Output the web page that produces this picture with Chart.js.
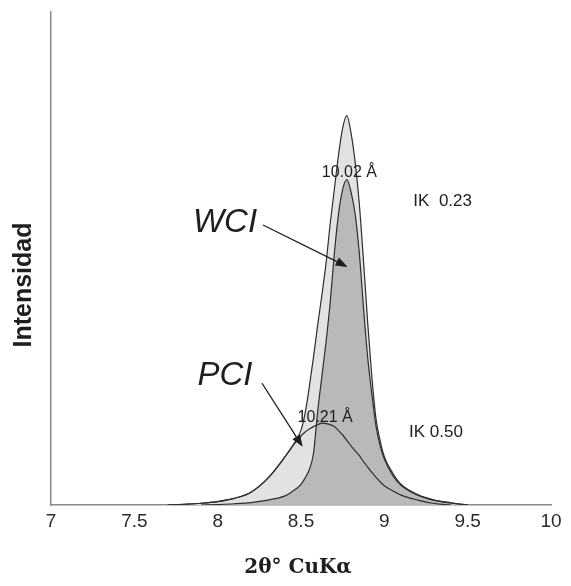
<!DOCTYPE html>
<html>
<head>
<meta charset="utf-8">
<script src="https://cdn.jsdelivr.net/npm/chart.js@4"></script>
<style>
  html, body { margin: 0; padding: 0; background: #fff; }
</style>
</head>
<body>
<canvas id="xrdChart" width="571" height="586"></canvas>
<script>
// 2θ grid (degrees), denser around the 001 reflection
const twoTheta = [7.7, 7.8, 7.9, 8.0, 8.1, 8.2, 8.3, 8.4, 8.45, 8.5, 8.525, 8.55, 8.575, 8.6, 8.625, 8.65, 8.675, 8.7, 8.725, 8.75, 8.775, 8.8, 8.825, 8.85, 8.875, 8.9, 8.925, 8.95, 8.975, 9.0, 9.05, 9.1, 9.2, 9.3, 9.4, 9.5];

// outer light-gray profile
const envelope = [0, 0.15, 0.35, 0.7, 1.35, 2.6, 5.4, 9.6, 12.0, 15.2, 18.7, 24, 30, 36.5, 42.5, 49, 57, 64, 71, 76.5, 79, 75.5, 69.5, 61, 49.5, 37, 26, 17.5, 13, 9.8, 6.5, 4.2, 2.1, 1.0, 0.45, 0];
// WCI, dark-gray profile
const wci = [null, null, 0, 0.1, 0.25, 0.5, 1.0, 1.8, 2.8, 4.2, 5.5, 7.2, 10.5, 19, 26, 33, 41, 51, 59, 64, 66, 63.5, 59, 51, 40, 30, 22.5, 16, 12, 9.3, 6.0, 4.0, 2.0, 0.95, 0.4, 0];
// PCI profile (outline only)
const pci = [0, 0.15, 0.35, 0.7, 1.35, 2.6, 5.4, 9.6, 12.0, 14.0, 14.8, 15.4, 15.9, 16.3, 16.6, 16.5, 16.3, 15.9, 15.1, 14.2, 13.1, 12.0, 11.0, 10.0, 8.8, 7.7, 6.6, 5.6, 4.7, 3.9, 2.9, 2.0, 1.0, 0.3, 0, null];

const xTicks = [7, 7.5, 8, 8.5, 9, 9.5, 10];

const toPoints = (ys) => twoTheta.map((x, i) => ({ x: x, y: ys[i] }));

// text and arrows drawn over the plot, in data units
const notes = [
  { text: '10.02 Å', x: 8.79, y: 67.5, font: '16px "Liberation Sans"' },
  { text: 'IK  0.23', x: 9.35, y: 61.7, font: '17px "Liberation Sans"' },
  { text: '10.21 Å', x: 8.645, y: 17.8, font: '16px "Liberation Sans"' },
  { text: 'IK 0.50', x: 9.31, y: 14.8, font: '17px "Liberation Sans"' },
  { text: 'WCI', x: 8.044, y: 57.2, font: 'italic 33px "Liberation Sans"' },
  { text: 'PCI', x: 8.044, y: 26.2, font: 'italic 33px "Liberation Sans"' }
];
const arrows = [
  { from: [8.272, 56.8], to: [8.78, 48.3] },
  { from: [8.266, 24.7], to: [8.51, 11.8] }
];

const overlay = {
  id: 'overlay',
  afterDraw(chart) {
    const ctx = chart.ctx;
    const xs = chart.scales.x, ys = chart.scales.y;
    const area = chart.chartArea;
    ctx.save();
    ctx.fillStyle = '#1e1e1e';
    ctx.strokeStyle = '#1e1e1e';
    ctx.textAlign = 'center';
    ctx.textBaseline = 'middle';
    notes.forEach(n => {
      ctx.font = n.font;
      ctx.fillText(n.text, xs.getPixelForValue(n.x), ys.getPixelForValue(n.y));
    });

    ctx.lineWidth = 1.3;
    arrows.forEach(a => {
      const x0 = xs.getPixelForValue(a.from[0]), y0 = ys.getPixelForValue(a.from[1]);
      const x1 = xs.getPixelForValue(a.to[0]), y1 = ys.getPixelForValue(a.to[1]);
      const ang = Math.atan2(y1 - y0, x1 - x0);
      const len = 12, half = 4.5;
      const bx = x1 - len * Math.cos(ang), by = y1 - len * Math.sin(ang);
      ctx.beginPath();
      ctx.moveTo(x0, y0);
      ctx.lineTo(bx, by);
      ctx.stroke();
      ctx.beginPath();
      ctx.moveTo(x1, y1);
      ctx.lineTo(bx + half * Math.sin(ang), by - half * Math.cos(ang));
      ctx.lineTo(bx - half * Math.sin(ang), by + half * Math.cos(ang));
      ctx.closePath();
      ctx.fill();
    });

    // axis titles
    ctx.font = 'bold 25px "Liberation Sans"';
    ctx.save();
    ctx.translate(area.left - 27, 285);
    ctx.rotate(-Math.PI / 2);
    ctx.fillText('Intensidad', 0, 0);
    ctx.restore();

    ctx.font = 'bold 20px "DejaVu Serif"';
    ctx.fillText('2θ° CuKα', 298, 568);
    ctx.restore();
  }
};

new Chart(document.getElementById('xrdChart'), {
  type: 'line',
  data: {
    datasets: [
      {
        label: 'WCI',
        data: toPoints(wci),
        fill: 'origin',
        backgroundColor: '#b9b9b9',
        borderColor: '#2e2e2e',
        borderWidth: 1.2
      },
      {
        label: 'envelope',
        data: toPoints(envelope),
        fill: 'origin',
        backgroundColor: '#e2e2e2',
        borderColor: '#2e2e2e',
        borderWidth: 1.2
      },
      {
        label: 'PCI',
        data: toPoints(pci),
        fill: false,
        borderColor: '#2e2e2e',
        borderWidth: 1.2
      }
    ]
  },
  options: {
    responsive: false,
    animation: false,
    devicePixelRatio: 1,
    layout: { padding: { left: 51, top: 12, right: 20, bottom: 0 } },
    elements: {
      point: { radius: 0 },
      line: { cubicInterpolationMode: 'monotone' }
    },
    plugins: {
      legend: { display: false },
      tooltip: { enabled: false },
      filler: { drawTime: 'beforeDatasetsDraw' }
    },
    scales: {
      x: {
        type: 'linear',
        min: 7,
        max: 10,
        afterBuildTicks: (s) => { s.ticks = xTicks.map(v => ({ value: v })); },
        afterFit: (s) => { s.height = 81; },
        ticks: {
          font: { family: 'Liberation Sans', size: 19 },
          color: '#2a2a2a',
          padding: 5,
          callback: (v) => String(v)
        },
        grid: { display: false, drawTicks: false },
        border: { display: true, color: '#8a8a8a', width: 1.5 }
      },
      y: {
        min: 0,
        max: 100,
        afterFit: (s) => { s.width = 0; },
        ticks: { display: false },
        grid: { display: false, drawTicks: false },
        border: { display: true, color: '#8a8a8a', width: 1.5 }
      }
    }
  },
  plugins: [overlay]
});
</script>
</body>
</html>
